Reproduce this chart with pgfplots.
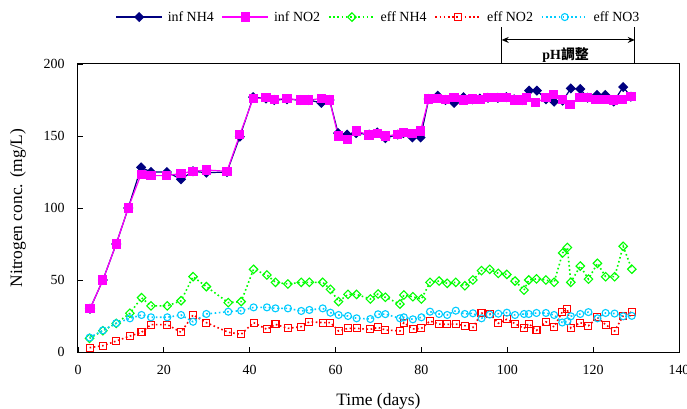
\documentclass[border=0pt]{standalone}
\usepackage{fontspec}
\setmainfont{Liberation Serif}
\newfontfamily\cjk{Noto Sans CJK TC}
\usepackage{pgfplots}
\pgfplotsset{compat=1.18}
\usetikzlibrary{arrows.meta}
\definecolor{infnh}{RGB}{0,0,128}
\definecolor{infno}{RGB}{255,0,255}
\definecolor{effnh}{RGB}{0,255,0}
\definecolor{effnotwo}{RGB}{255,0,0}
\definecolor{effnothree}{RGB}{0,204,255}
\begin{document}
\begin{tikzpicture}
\begin{axis}[
 name=ax,
 scale only axis, width=601bp, height=288bp,
 xmin=0, xmax=140, ymin=0, ymax=200,
 xtick={0,20,...,140}, ytick={0,50,...,200},
 tick align=inside, tick pos=left, major tick length=5bp,
 axis line style={line width=1bp},
 tick style={black, line width=0.8bp},
 ticklabel style={font=\fontsize{14}{16}\selectfont},
 /pgf/number format/assume math mode=true,
 xticklabel style={yshift=-10bp},
 yticklabel style={xshift=-10bp},
 xlabel={Time (days)}, ylabel={Nitrogen conc. (mg/L)},
 label style={font=\fontsize{17.5}{20}\selectfont},
 xlabel style={at={(axis description cs:0.5,-0.172)}, anchor=center},
 ylabel style={at={(axis description cs:-0.0998,0.5)}, anchor=center},
 legend columns=5,
 legend style={at={(axis description cs:0.5,1.163)}, anchor=center, draw=none, fill=none,
   font=\fontsize{14}{16}\selectfont,
   /tikz/every even column/.append style={column sep=6bp},
   /tikz/every odd column/.append style={column sep=3bp}},
 legend image code/.code={\draw[mark repeat=2,mark phase=2,#1] plot coordinates {(0bp,0bp) (23bp,0bp) (46bp,0bp)};},
 clip=false,
]
\addplot[infnh, line width=1.2bp, mark=square*, mark size=3.0bp, mark options={rotate=45, fill=infnh}] coordinates {
(2.8,30) (5.8,50) (8.9,75) (11.7,100) (14.7,128.2) (17.0,125) (20.7,125) (24.0,120) (26.8,125.5) (29.9,124.5)
(34.7,125) (37.7,149.5) (40.8,177) (43.8,176) (45.7,175) (48.7,175.5) (51.8,175) (53.7,175) (56.7,173) (58.6,175)
(60.6,152) (62.7,151) (64.8,152) (67.8,151) (69.7,152.5) (71.6,148.5) (74.5,151) (75.8,152) (77.9,149) (79.8,149)
(81.7,175.7) (83.8,178) (85.6,175) (87.6,173) (89.8,177) (91.9,175.5) (93.6,176) (95.5,176.5) (97.8,176.5) (99.8,177)
(101.6,175.5) (103.5,175) (105.1,181.5) (106.9,181.5) (109,175.5) (110.9,173.8) (112.9,174.5) (114.8,183) (117,182.6)
(118.7,176.6) (120.9,178.5) (122.8,178.5) (124.8,174) (127,184) (128.8,177.3)
};
\addlegendentry{inf NH4}
\addplot[infno, line width=1.2bp, mark=square*, mark size=4.0bp, mark options={fill=infno}] coordinates {
(2.8,30) (5.8,50) (8.9,75) (11.7,100) (14.7,123.5) (17.0,122.5) (20.7,122.5) (24.0,124) (26.8,125.5) (29.9,126.4)
(34.7,125.5) (37.7,151) (40.8,176) (43.8,176.5) (45.7,175.5) (48.7,176) (51.8,175) (53.7,175) (56.7,176) (58.6,175)
(60.6,150) (62.7,147.5) (64.8,153.5) (67.8,150.7) (69.7,151.5) (71.6,150) (74.5,151) (75.8,152.5) (77.9,152) (79.8,153.5)
(81.7,175.7) (83.8,176) (85.6,175.5) (87.6,177) (89.8,175) (91.9,175.7) (93.8,175.5) (95.5,176.6) (97.8,176.6) (99.8,176.6)
(101.6,175) (103.5,175) (104.5,176.6) (106.6,173) (109,176.6) (110.7,179) (112.8,175.5) (114.6,172) (116.8,176.6)
(118.7,176.6) (120.6,175.5) (122.6,175.5) (124.7,175) (126.7,175.5) (128.8,177.3)
};
\addlegendentry{inf NO2}
\addplot[effnh, line width=1.6bp, dash pattern=on 1.6bp off 2.6bp, mark=square, mark size=3.0bp, mark options={solid, rotate=45, fill=white, line width=1.1bp}] coordinates {
(2.7,9.5) (5.8,14.8) (8.9,19.9) (12.1,26.9) (14.8,37.7) (17.0,32) (20.8,32) (24.0,35.6) (26.8,52.3) (29.9,45.4)
(35.0,34.3) (38.0,35) (40.9,57.4) (44.0,53.5) (46.0,48.4) (48.9,47.2) (52.0,48.4) (53.9,48.4) (57.0,48.4) (58.8,43.5)
(60.7,35) (62.9,40) (64.9,40) (68.1,36.8) (69.9,40.3) (71.6,38) (75.0,33.3) (75.9,39.6) (78.0,38.4) (80.0,36.8)
(82.0,48.4) (84.1,49.3) (86.0,47.7) (88.0,48.4) (90.1,46) (92.0,50) (94.0,56.5) (95.9,57.4) (97.9,54.6) (99.9,53.9)
(101.8,49.3) (103.9,43) (105.0,50) (106.8,50.8) (109,50) (110.9,48.4) (112.9,68.8) (114,72.6) (114.8,48.4) (117,59.7)
(118.9,50.6) (121,61.6) (122.9,52.3) (125,52.3) (127,73.4) (129,57.5)
};
\addlegendentry{eff NH4}
\addplot[effnotwo, line width=1.6bp, dash pattern=on 1.6bp off 2.6bp, mark=square, mark size=3.5bp, mark options={solid, fill=white, line width=1.1bp}] coordinates {
(2.7,3) (5.8,4.4) (8.9,7.6) (12.1,11.1) (14.8,13.7) (17.0,19) (20.8,19) (24.0,13.7) (26.8,25.7) (29.9,20.4)
(35.0,13.7) (38.0,12.3) (40.9,20.4) (44.0,15.7) (46.0,19.2) (48.9,16.4) (52.0,17.6) (53.9,21) (57.0,20.4) (58.8,20.4)
(60.7,14.6) (62.9,16.4) (64.9,16.4) (68.1,15.7) (69.9,17.1) (71.6,15.3) (75.0,14.6) (75.9,20.4) (78.0,16) (80.0,16.4)
(82.0,21.5) (84.1,19.4) (86.0,19.2) (88.0,19.4) (90.1,18.3) (92.0,17.1) (94.0,26.9) (95.9,26.7) (97.9,19.9) (99.9,22.7)
(101.8,19.7) (103.9,16.4) (105.0,19.7) (106.8,15) (109,21) (110.9,17.4) (112.8,27.8) (114,29.6) (114.8,16.6) (117,20.4)
(118.9,18.2) (121,24) (122.9,19) (125,14.6) (127,25.1) (129,27.9)
};
\addlegendentry{eff NO2}
\addplot[effnothree, line width=1.6bp, dash pattern=on 1.6bp off 2.6bp, mark=o, mark size=3.5bp, mark options={solid, fill=white, line width=1.1bp}] coordinates {
(2.7,10) (5.8,15) (8.9,20) (12.1,23.4) (14.8,25.7) (17.0,24.1) (20.8,24.1) (24.0,25.7) (26.8,21) (29.9,26.4)
(35.0,28) (38.0,28.7) (40.9,31) (44.0,31) (46.0,30.3) (48.9,30.3) (52.0,28.5) (53.9,29.2) (57.0,30.3) (58.8,27.3)
(60.7,25.7) (62.9,25) (64.9,23.4) (68.1,22.9) (69.9,26.2) (71.6,26.3) (75.0,23.4) (75.9,24.1) (78.0,22.7) (80.0,24.1)
(82.0,28) (84.1,26.4) (86.0,25.7) (88.0,28.7) (90.1,26.4) (92.0,26.9) (94.0,23.4) (95.9,26) (97.9,26.6) (99.9,27.3)
(101.8,25.7) (103.9,26.4) (105.0,26.4) (106.8,27.1) (109,27.1) (110.9,25.7) (112.8,20.5) (114,21.3) (114.8,24.8) (117,26.4)
(118.9,27.7) (121,23.4) (122.9,27.1) (125,26.7) (127,24.8) (129,25.1)
};
\addlegendentry{eff NO3}
\draw[line width=1bp] (axis cs:98.7,200.5) -- (axis cs:98.7,225.7);
\draw[line width=1bp] (axis cs:129.7,200.5) -- (axis cs:129.7,225.7);
\draw[{Stealth[length=7bp,width=6bp]}-{Stealth[length=7bp,width=6bp]}, line width=1bp] (axis cs:98.7,216.7) -- (axis cs:129.7,216.7);
\node[font=\fontsize{14}{16}\selectfont\bfseries, inner sep=0pt] at (axis cs:113.6,206) {pH{\cjk 調整}};
\end{axis}
\pgfresetboundingbox
\path ([shift={(-78bp,-57bp)}]ax.south west) rectangle ([shift={(8bp,64bp)}]ax.north east);
\end{tikzpicture}
\end{document}
